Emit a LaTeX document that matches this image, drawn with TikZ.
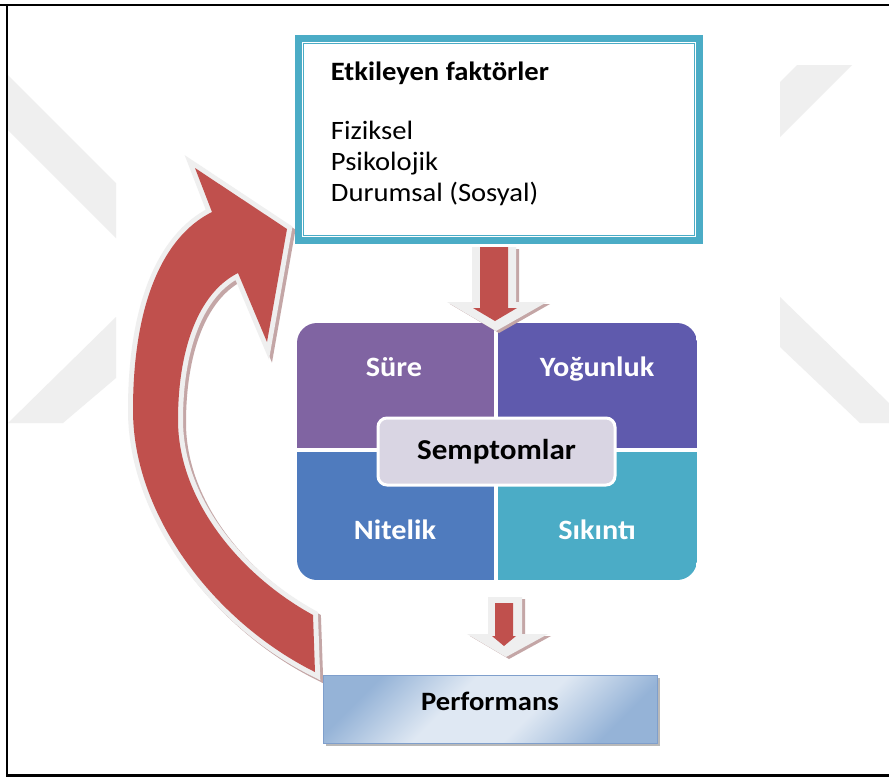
\documentclass[tikz,border=0pt]{standalone}
\usepackage{fontspec}
\setmainfont{Carlito}[FakeStretch=1.08]
\usetikzlibrary{calc}
\definecolor{tealc}{HTML}{4BACC6}
\definecolor{redc}{HTML}{C0504D}
\definecolor{rimc}{HTML}{EFEFEF}
\definecolor{shadc}{HTML}{C4A6A6}
\definecolor{surec}{HTML}{8064A2}
\definecolor{yogc}{HTML}{5F5AAD}
\definecolor{nitc}{HTML}{4F7BBE}
\definecolor{sikc}{HTML}{4BACC6}
\definecolor{sempc}{HTML}{D9D5E3}
\definecolor{pdark}{HTML}{95B3D7}
\definecolor{plight}{HTML}{DFE8F3}
\definecolor{pborder}{HTML}{7F9FCC}
\definecolor{wmc}{HTML}{EFEFEF}
\pgfdeclarehorizontalshading{perfsh}{100bp}{color(0bp)=(pdark); color(25bp)=(pdark); color(42bp)=(plight); color(58bp)=(plight); color(75bp)=(pdark); color(100bp)=(pdark)}
\begin{document}
\begin{tikzpicture}[x=1pt,y=-1pt,
  topbox/.style={draw=tealc, line width=7pt, fill=white, minimum width=401pt, minimum height=202pt, inner sep=0pt},
  toptext/.style={anchor=base west, font=\fontsize{26.5}{30}\selectfont, inner sep=0pt},
  qlabel/.style={anchor=base, text=white, font=\fontsize{28}{32}\selectfont\bfseries, inner sep=0pt},
  sempbox/.style={draw=white, line width=3pt, fill=sempc, rounded corners=9pt, minimum width=237pt, minimum height=67pt, inner sep=0pt, font=\fontsize{28.8}{32}\selectfont\bfseries},
  perfbox/.style={draw=pborder, line width=0.8pt, shading=perfsh, shading angle=-45, minimum width=334pt, minimum height=68pt, inner sep=0pt},
  perftext/.style={anchor=base, font=\fontsize{26.5}{30}\selectfont\bfseries, inner sep=0pt},
  rim/.style={draw=rimc, line width=10pt, line join=miter},
  shad/.style={draw=shadc, line width=10pt, line join=miter},
  redfill/.style={fill=redc},
  wm/.style={fill=wmc}
]
\useasboundingbox (0,0) rectangle (889,777);
\fill[white] (0,0) rectangle (889,777);

% watermark (faint background logo)
\begin{scope}
  \clip (8,7) rectangle (116,773);
  \fill[wm] (8,75) -- (116,183) -- (116,238) -- (8,130) -- cycle;
  \fill[wm] (8,423) -- (63,423) -- (116,378) -- (116,317) -- cycle;
\end{scope}
\begin{scope}
  \clip (780,7) rectangle (889,773);
  \fill[wm] (780,82) -- (797,65) -- (852,65) -- (780,137) -- cycle;
  \fill[wm] (780,297) -- (889,403) -- (889,423) -- (860,423) -- (780,347) -- cycle;
\end{scope}

% frame
\draw[line width=1.2pt] (116,5) -- (780,5);
\draw[line width=2.5pt] (0,5) -- (116,5);
\draw[line width=2.5pt] (780,5) -- (889,5);
\draw[line width=2.5pt] (7,4) -- (7,776);
\draw[line width=3pt] (6,775) -- (889,775);

% curved feedback arrow
\def\curvearrow{(315,672) .. controls (220,625) and (133,520) .. (133,410)
  .. controls (133,310) and (160,238) .. (212,212)
  -- (195,168) -- (287,229) -- (267,342) -- (238,273)
  .. controls (198,293) and (178,350) .. (178,420)
  .. controls (178,500) and (240,575) .. (313,615) -- cycle}
\begin{scope}[shift={(3,3)}]
  \draw[shad] \curvearrow;
\end{scope}
\draw[rim] \curvearrow;
\fill[redfill] \curvearrow;

% top box
\node[topbox] (top) at (499,139.5) {};
\draw[tealc, line width=1.8pt] ($(top.north west)+(8.5,8.5)$) rectangle ($(top.south east)+(-8.5,-8.5)$);
\node[toptext, font=\fontsize{26.5}{30}\selectfont\bfseries] (t1) at (330.7,80.7) {Etkileyen faktörler};
\node[toptext] (t2) at (330.7,139) {Fiziksel};
\node[toptext] (t3) at (330.7,170) {Psikolojik};
\node[toptext] (t4) at (330.7,201) {Durumsal (Sosyal)};

% symptom grid
\begin{scope}
  \clip[rounded corners=20pt] (297,323) rectangle (697,580);
  \fill[surec] (297,323) rectangle (494,448);
  \fill[yogc] (498,323) rectangle (697,448);
  \fill[nitc] (297,452) rectangle (494,580);
  \fill[sikc] (498,452) rectangle (697,580);
\end{scope}
\node[qlabel] (sure) at (394,376.7) {Süre};
\node[qlabel] (yog) at (597,376.7) {Yoğunluk};
\node[qlabel] (nit) at (395,539) {Nitelik};
\node[qlabel] (sik) at (597,539) {Sıkıntı};
\node[sempbox] (semp) at (496.5,451.5) {Semptomlar};

% arrow top box -> grid
\def\arrowone{(480,247) -- (480,308) -- (473,308) -- (495,321) -- (517,308) -- (508,308) -- (508,247) -- cycle}
\def\arrowoneout{(472,247) -- (472,302) -- (447,302) -- (496,331) -- (547,302) -- (516,302) -- (516,247) -- cycle}
\fill[shadc, shift={(3,2)}] \arrowoneout;
\fill[rimc] \arrowoneout;
\fill[redfill] \arrowone;

% arrow grid -> performance
\def\arrowtwo{(495,603) -- (495,636) -- (492,636) -- (504,646) -- (516,636) -- (513,636) -- (513,603) -- cycle}
\def\arrowtwoout{(488,597) -- (488,634) -- (467,634) -- (506,657) -- (548,634) -- (522,634) -- (522,597) -- cycle}
\fill[shadc, shift={(3,2)}] \arrowtwoout;
\fill[rimc] \arrowtwoout;
\fill[redfill] \arrowtwo;

% performance box
\fill[gray!55] (326,678) rectangle (660,746);
\node[perfbox] (perf) at (490,709) {};
\node[perftext] (perfl) at (490,710) {Performans};
\end{tikzpicture}
\end{document}
